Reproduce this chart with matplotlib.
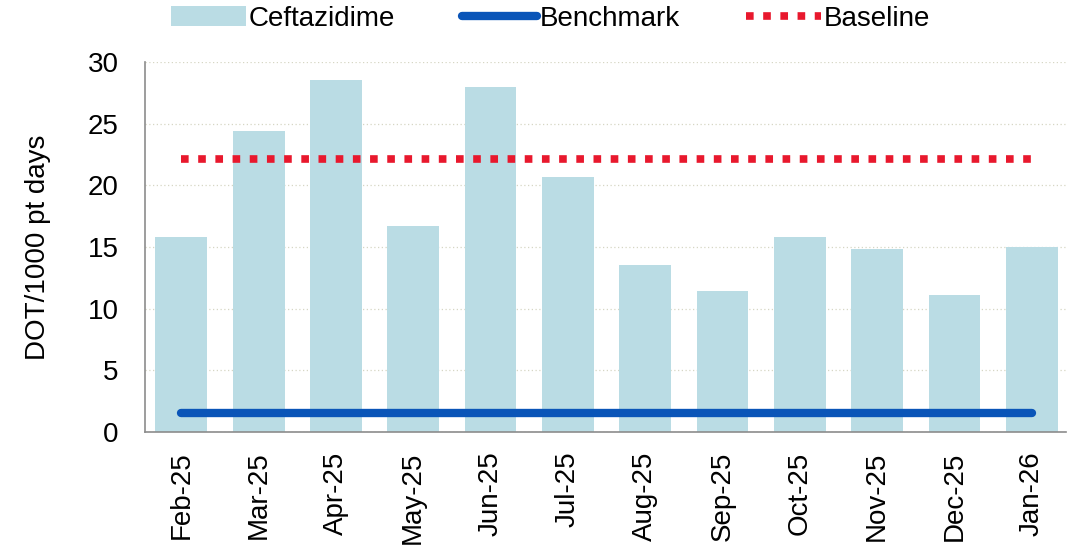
import matplotlib
matplotlib.use("Agg")
import matplotlib.pyplot as plt

months = ["Feb-25", "Mar-25", "Apr-25", "May-25", "Jun-25", "Jul-25",
          "Aug-25", "Sep-25", "Oct-25", "Nov-25", "Dec-25", "Jan-26"]
ceftazidime = [15.8, 24.4, 28.5, 16.7, 28.0, 20.7, 13.5, 11.4, 15.8, 14.8, 11.1, 15.0]
benchmark = [1.5] * 12
baseline = [22.1] * 12
yticks = [0, 5, 10, 15, 20, 25, 30]

plt.rcParams['font.family'] = ['Liberation Sans', 'DejaVu Sans']

fig = plt.figure(figsize=(10.69, 5.51), dpi=100)
ax = fig.add_axes([0.1356, 0.216, 0.8614, 0.6715])

x = list(range(len(months)))
bars = ax.bar(x, ceftazidime, width=0.67, color='#badce4', label='Ceftazidime', zorder=2)
lb, = ax.plot(x, benchmark, color='#0a55b8', lw=6, solid_capstyle='round', label='Benchmark', zorder=3)
ll, = ax.plot(x, baseline, color='#e8182d', lw=5.5, linestyle=(0, (1, 1.25)), label='Baseline', zorder=3)

ax.set_xlim(-0.47, 11.44)
ax.set_ylim(0, 30)
ax.set_yticks(yticks)
ax.set_xticks(x)
ax.set_xticklabels(months, rotation=90)
ax.tick_params(axis='both', length=0, labelsize=20)
ax.tick_params(axis='y', pad=19)
ax.tick_params(axis='x', pad=14)
ax.yaxis.grid(True, linestyle=(0, (1, 2)), color='#d6d6c4', lw=0.9, zorder=0)
ax.set_axisbelow(True)
for s in ['top', 'right']:
    ax.spines[s].set_visible(False)
for s in ['left', 'bottom']:
    ax.spines[s].set_color('#8c8c8c')
    ax.spines[s].set_linewidth(1.2)
ax.set_ylabel('DOT/1000 pt days', fontsize=20, labelpad=26)

fig.legend(handles=[bars, lb, ll], labels=['Ceftazidime', 'Benchmark', 'Baseline'],
           loc='center', bbox_to_anchor=(0.515, 0.966), ncol=3, frameon=False,
           fontsize=20, handlelength=2.7, handletextpad=0.1, columnspacing=2.4)

fig.savefig('out.png', dpi=100)
